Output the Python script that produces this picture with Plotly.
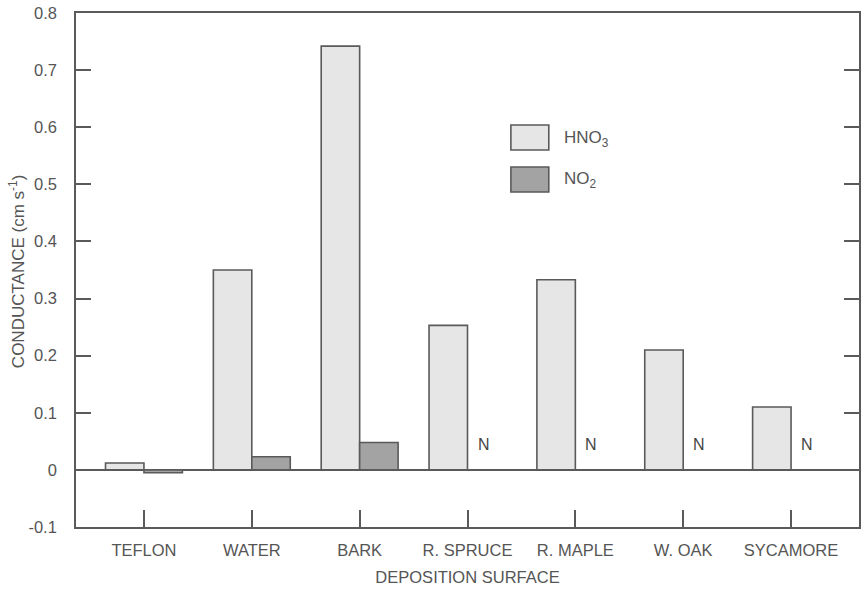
import plotly.graph_objects as go

surfaces = ["TEFLON", "WATER", "BARK", "R. SPRUCE", "R. MAPLE", "W. OAK", "SYCAMORE"]
hno3 = [0.012, 0.350, 0.742, 0.253, 0.333, 0.210, 0.110]
no2 = [-0.005, 0.023, 0.048, None, None, None, None]
# surfaces where NO2 was not measured
no2_missing = ["R. SPRUCE", "R. MAPLE", "W. OAK", "SYCAMORE"]
no2_missing_y = [0.045, 0.045, 0.045, 0.045]

y_ticks = [-0.1, 0, 0.1, 0.2, 0.3, 0.4, 0.5, 0.6, 0.7, 0.8]
y_tick_text = ["-0.1", "0", "0.1", "0.2", "0.3", "0.4", "0.5", "0.6", "0.7", "0.8"]

FONT = "Liberation Sans, Arial, Helvetica, sans-serif"
INK = "#555555"
LINE = "#5a5a5a"
HNO3_FILL = "#e6e6e6"
NO2_FILL = "#a3a3a3"

W, H = 861, 589
L, R, T, B = 76, 0, 13, 62

fig = go.Figure()
fig.add_trace(go.Bar(
    x=surfaces, y=hno3, name="HNO3",
    marker=dict(color=HNO3_FILL, line=dict(color=LINE, width=1.6)),
))
fig.add_trace(go.Bar(
    x=surfaces, y=no2, name="NO2",
    marker=dict(color=NO2_FILL, line=dict(color=LINE, width=1.6)),
))

# "N" markers beside the HNO3 bars where no NO2 value exists
for s, yv in zip(no2_missing, no2_missing_y):
    fig.add_annotation(
        x=s, y=yv, xref="x", yref="y", xshift=16,
        text="N", showarrow=False,
        font=dict(family=FONT, size=16, color="#444444"),
    )

# legend drawn as boxes with labels inside the plot area
legend_items = [("HNO<sub>3</sub>", HNO3_FILL), ("NO<sub>2</sub>", NO2_FILL)]
pw, ph = W - L - R, H - T - B
for i, (label, fill) in enumerate(legend_items):
    top = 125 + i * 42
    x0, x1 = 512, 550
    y0, y1 = top, top + 25
    fig.add_shape(
        type="rect", xref="paper", yref="paper",
        x0=(x0 - L) / pw, x1=(x1 - L) / pw,
        y0=1 - (y1 - T) / ph, y1=1 - (y0 - T) / ph,
        fillcolor=fill, line=dict(color=LINE, width=1.6),
    )
    fig.add_annotation(
        xref="paper", yref="paper",
        x=(563 - L) / pw, y=1 - ((y0 + y1) / 2 + 1 - T) / ph,
        xanchor="left", yanchor="middle",
        text=label, showarrow=False,
        font=dict(family=FONT, size=17, color=INK),
    )

# rotated y-axis title
fig.add_annotation(
    xref="paper", yref="paper",
    x=(17 - L) / pw, y=1 - (272 - T) / ph,
    xanchor="center", yanchor="middle",
    text="CONDUCTANCE (cm s<sup>-1</sup>)", textangle=-90, showarrow=False,
    font=dict(family=FONT, size=17, color=INK),
)

fig.update_layout(
    width=W, height=H,
    margin=dict(l=L, r=R, t=T, b=B),
    paper_bgcolor="white", plot_bgcolor="white",
    barmode="group", bargap=0.287, bargroupgap=0,
    showlegend=False,
    font=dict(family=FONT, size=16.5, color=INK),
)
fig.update_xaxes(
    range=[-0.63, 6.63],
    showline=True, linecolor=LINE, linewidth=1.6, mirror=True,
    ticks="inside", ticklen=17, tickwidth=1.6, tickcolor=LINE,
    showgrid=False,
    ticklabelstandoff=7,
    tickfont=dict(family=FONT, size=16.5, color=INK),
    title=dict(text="DEPOSITION SURFACE", standoff=14,
               font=dict(family=FONT, size=16.5, color=INK)),
)
fig.update_yaxes(
    range=[-0.1, 0.8],
    tickvals=y_ticks, ticktext=y_tick_text,
    showline=True, linecolor=LINE, linewidth=1.6, mirror="ticks",
    ticks="inside", ticklen=15, tickwidth=1.6, tickcolor=LINE,
    showgrid=False,
    zeroline=True, zerolinecolor=LINE, zerolinewidth=1.6,
    ticklabelstandoff=14,
    tickfont=dict(family=FONT, size=16.5, color=INK),
)

fig.write_html("out.html")
